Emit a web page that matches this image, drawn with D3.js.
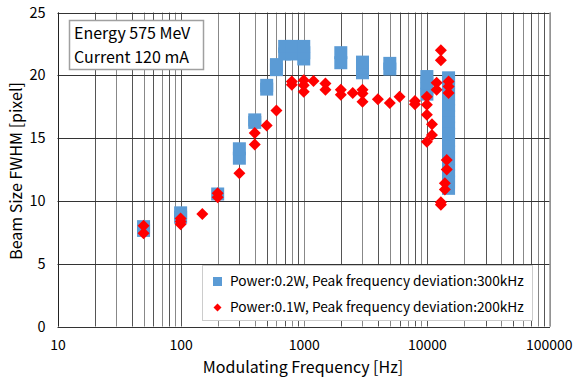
<!DOCTYPE html>
<html>
<head>
<meta charset="utf-8">
<script src="https://cdn.jsdelivr.net/npm/d3@7"></script>
<style>
  body { margin: 0; background: #fff; }
  svg { display: block; }
  text { font-family: "Noto Sans CJK JP", "DejaVu Sans", sans-serif; fill: #000; }
</style>
</head>
<body>
<div id="chart"></div>
<script>
// Power 0.2W, peak deviation 300kHz (blue squares)
const blueFreq = [50, 50, 100, 100, 200, 300, 300, 400, 400, 500, 500, 600, 600,
  700, 700, 800, 800, 1000, 1000, 1000, 2000, 2000, 3000, 3000, 3000, 5000, 5000,
  10000, 10000, 10000, 10000,
  15000, 15000, 15000, 15000, 15000, 15000, 15000, 15000, 15000, 15000,
  15000, 15000, 15000, 15000, 15000, 15000, 15000, 15000, 15000, 15000];
const blueSize = [7.65, 7.95, 8.7, 9.05, 10.55, 13.4, 14.15, 16.25, 16.45, 18.9, 19.2, 20.45, 20.85,
  21.7, 22.3, 21.7, 22.3, 21.3, 21.8, 22.3, 21.0, 21.8, 20.2, 20.6, 21.05, 20.5, 20.95,
  18.5, 18.9, 19.4, 19.9,
  19.8, 19.4, 19.0, 18.5, 18.1, 17.6, 17.2, 16.7, 16.2, 15.8,
  15.3, 14.8, 14.3, 13.9, 13.4, 12.9, 12.4, 12.0, 11.5, 11.0];

// Power 0.1W, peak deviation 200kHz (red diamonds)
const redFreq = [50, 50, 100, 100, 100, 150, 200, 200, 300, 400, 400, 500, 600,
  800, 800, 1000, 1000, 1000, 1200, 1500, 1500, 2000, 2000, 2500, 3000, 3000, 3000,
  4000, 5000, 6000, 8000, 8000, 10000, 10000, 10000, 10000, 11000, 11000,
  12000, 12000, 13000, 13000, 13000, 13000, 15000, 15000, 15000,
  14500, 14500, 14000, 14000];
const redSize = [8.03, 7.42, 8.6, 8.35, 8.15, 8.96, 10.6, 10.3, 12.2, 15.4, 14.5, 16.0, 17.2,
  19.5, 19.25, 19.6, 19.2, 18.7, 19.55, 19.35, 18.85, 18.85, 18.45, 18.6, 18.85, 18.55, 17.9,
  18.1, 17.8, 18.3, 17.95, 17.7, 18.3, 17.65, 16.85, 14.7, 16.1, 15.25,
  19.4, 18.85, 22.0, 21.2, 9.9, 9.7, 19.5, 19.1, 18.6,
  13.25, 12.5, 11.4, 10.9];

const seriesNames = ["Power:0.2W, Peak frequency deviation:300kHz",
                     "Power:0.1W, Peak frequency deviation:200kHz"];
const infoLines = ["Energy 575 MeV", "Current 120 mA"];
const yTicks = [0, 5, 10, 15, 20, 25];
const xTicks = [10, 100, 1000, 10000, 100000];

const W = 573, H = 379;
const svg = d3.select("#chart").append("svg").attr("width", W).attr("height", H);

const x = d3.scaleLog().domain([10, 100000]).range([57.5, 550]);
const y = d3.scaleLinear().domain([0, 25]).range([326.5, 12.5]);

// grid
svg.append("g").selectAll("line")
  .data(x.ticks())
  .join("line")
  .attr("x1", d => Math.round(x(d)) + 0.5).attr("x2", d => Math.round(x(d)) + 0.5)
  .attr("y1", y(25)).attr("y2", y(0))
  .attr("stroke", (d, i) => i % 2 ? "#555" : "#888")
  .attr("stroke-width", 1);

svg.append("g").selectAll("line")
  .data(yTicks)
  .join("line")
  .attr("x1", x(10)).attr("x2", x(100000))
  .attr("y1", d => Math.round(y(d)) + 0.5).attr("y2", d => Math.round(y(d)) + 0.5)
  .attr("stroke", "#333");

// frame
svg.append("line").attr("x1", x(100000)).attr("x2", x(100000))
  .attr("y1", y(25)).attr("y2", y(0)).attr("stroke", "#999").attr("stroke-width", 1.5);
svg.append("line").attr("x1", Math.round(x(10)) + 0.5).attr("x2", Math.round(x(10)) + 0.5)
  .attr("y1", y(25)).attr("y2", y(0)).attr("stroke", "#222");

// axes labels
const yAxis = d3.axisLeft(y).tickValues(yTicks).tickSize(0).tickPadding(12);
const gy = svg.append("g").attr("transform", `translate(${x(10)},0)`).call(yAxis);
gy.select(".domain").remove();
gy.selectAll("text").style("font-size", "14.5px").style("font-family", "'Noto Sans CJK JP', sans-serif");

const xAxis = d3.axisBottom(x).tickValues(xTicks).tickFormat(d3.format("d")).tickSize(0).tickPadding(14);
const gx = svg.append("g").attr("transform", `translate(0,${y(0)})`).call(xAxis);
gx.select(".domain").remove();
gx.selectAll("text").style("font-size", "14px").style("font-family", "'Noto Sans CJK JP', sans-serif");
// keep the last label inside the window
gx.selectAll("text").filter(d => d === 100000).attr("text-anchor", "end").attr("dx", 22);

svg.append("text")
  .attr("x", 303).attr("y", 373)
  .attr("text-anchor", "middle")
  .style("font-size", "16px")
  .text("Modulating Frequency [Hz]");

svg.append("text")
  .attr("transform", "translate(22,171) rotate(-90)")
  .attr("text-anchor", "middle")
  .style("font-size", "16px")
  .text("Beam Size FWHM [pixel]");

// markers
const sq = 13;
svg.append("g").selectAll("rect")
  .data(d3.zip(blueFreq, blueSize))
  .join("rect")
  .attr("x", d => x(d[0]) - sq / 2)
  .attr("y", d => y(d[1]) - sq / 2)
  .attr("width", sq).attr("height", sq)
  .attr("fill", "#5B9BD5");

const diamond = d3.symbol().type(d3.symbolSquare).size(72);
svg.append("g").selectAll("path")
  .data(d3.zip(redFreq, redSize))
  .join("path")
  .attr("d", diamond)
  .attr("transform", d => `translate(${x(d[0])},${y(d[1])}) rotate(45)`)
  .attr("fill", "#FF0000");

// info box
const info = svg.append("g");
info.append("rect")
  .attr("x", 69.5).attr("y", 20.5).attr("width", 134).attr("height", 49)
  .attr("fill", "#fff").attr("stroke", "#a0a0a0").attr("stroke-width", 1.5);
info.selectAll("text")
  .data(infoLines)
  .join("text")
  .attr("x", 74).attr("y", (d, i) => 39 + i * 24)
  .style("font-size", "16px")
  .text(d => d);

// legend
const lg = svg.append("g");
lg.append("rect")
  .attr("x", 202.5).attr("y", 265.5).attr("width", 330).attr("height", 55)
  .attr("fill", "#fff").attr("stroke", "#ccc");
lg.append("rect")
  .attr("x", 213).attr("y", 277).attr("width", 9).attr("height", 9)
  .attr("fill", "#5B9BD5");
lg.append("path")
  .attr("d", d3.symbol().type(d3.symbolSquare).size(32))
  .attr("transform", "translate(217.5,307.5) rotate(45)")
  .attr("fill", "#FF0000");
lg.selectAll("text")
  .data(seriesNames)
  .join("text")
  .attr("x", 230).attr("y", (d, i) => 286 + i * 26)
  .style("font-size", "13.7px")
  .text(d => d);
</script>
</body>
</html>
